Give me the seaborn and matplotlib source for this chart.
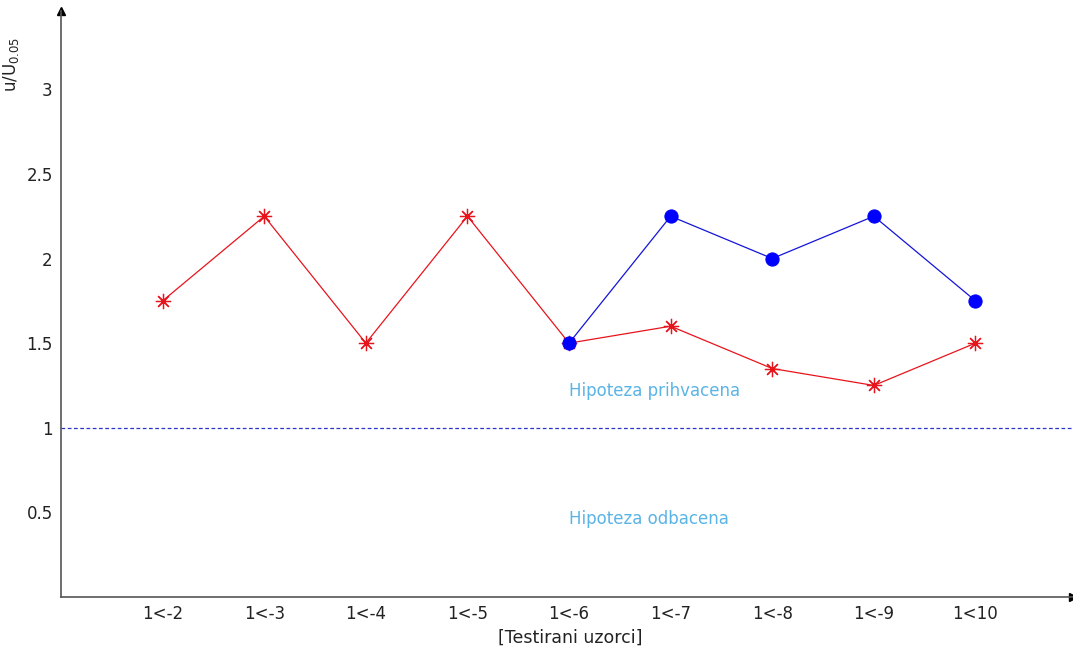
import matplotlib
matplotlib.use("Agg")
import matplotlib.pyplot as plt
import seaborn as sns
import pandas as pd

categories = ["1<-2", "1<-3", "1<-4", "1<-5", "1<-6", "1<-7", "1<-8", "1<-9", "1<10"]
red_values = [1.75, 2.25, 1.5, 2.25, 1.5, 1.6, 1.35, 1.25, 1.5]
blue_categories = ["1<-6", "1<-7", "1<-8", "1<-9", "1<10"]
blue_values = [1.5, 2.25, 2.0, 2.25, 1.75]
yticks = [0.5, 1, 1.5, 2, 2.5, 3]
yticklabels = ["0.5", "1", "1.5", "2", "2.5", "3"]

sns.set_theme(style="white")
plt.rcParams['font.family'] = ['DejaVu Sans']

pos = {c: i + 1 for i, c in enumerate(categories)}
df_red = pd.DataFrame({"x": [pos[c] for c in categories], "y": red_values})
df_blue = pd.DataFrame({"x": [pos[c] for c in blue_categories], "y": blue_values})

fig = plt.figure(figsize=(10.73, 6.47), dpi=100)
ax = fig.add_axes([0.0569, 0.0773, 0.9431, 0.905])

sns.lineplot(data=df_red, x="x", y="y", ax=ax, color="#e8141c", linewidth=0.9,
             marker=(8, 2, 0), markersize=11, markeredgecolor="#e8141c",
             markeredgewidth=0.9)
sns.lineplot(data=df_blue, x="x", y="y", ax=ax, color="#1414d8", linewidth=0.9,
             marker="o", markersize=9.5, markerfacecolor="#0000ff",
             markeredgecolor="#0000ff")

ax.axhline(1, color="#2b35c8", linestyle=(0, (3, 2)), linewidth=0.9)

ax.text(5.0, 1.22, "Hipoteza prihvacena", color="#5ab4e6", fontsize=12, va="center", ha="left")
ax.text(5.0, 0.46, "Hipoteza odbacena", color="#5ab4e6", fontsize=12, va="center", ha="left")

ax.set_xlim(0, 9.96)
ax.set_ylim(0, 3.46)
ax.set_xticks(range(1, len(categories) + 1))
ax.set_xticklabels(categories)
ax.set_yticks(yticks)
ax.set_yticklabels(yticklabels)
ax.tick_params(axis="both", length=0, labelsize=12, colors="#222222")
ax.tick_params(axis="x", pad=6)
ax.tick_params(axis="y", pad=6)

for s in ["top", "right"]:
    ax.spines[s].set_visible(False)
for s in ["left", "bottom"]:
    ax.spines[s].set_color("#555555")
    ax.spines[s].set_linewidth(1.2)

ax.plot(1, 0, ">", transform=ax.transAxes, color="black", markersize=6, clip_on=False)
ax.plot(0, 1, "^", transform=ax.transAxes, color="black", markersize=6, clip_on=False)

ax.set_xlabel("[Testirani uzorci]", fontsize=12.5, color="#222222")
ax.xaxis.set_label_coords(0.503, -0.055)
ax.set_ylabel("u/U$_{0.05}$", fontsize=12, color="#222222")
ax.yaxis.set_label_coords(-0.04, 0.91)

fig.savefig("out.png", dpi=100)
